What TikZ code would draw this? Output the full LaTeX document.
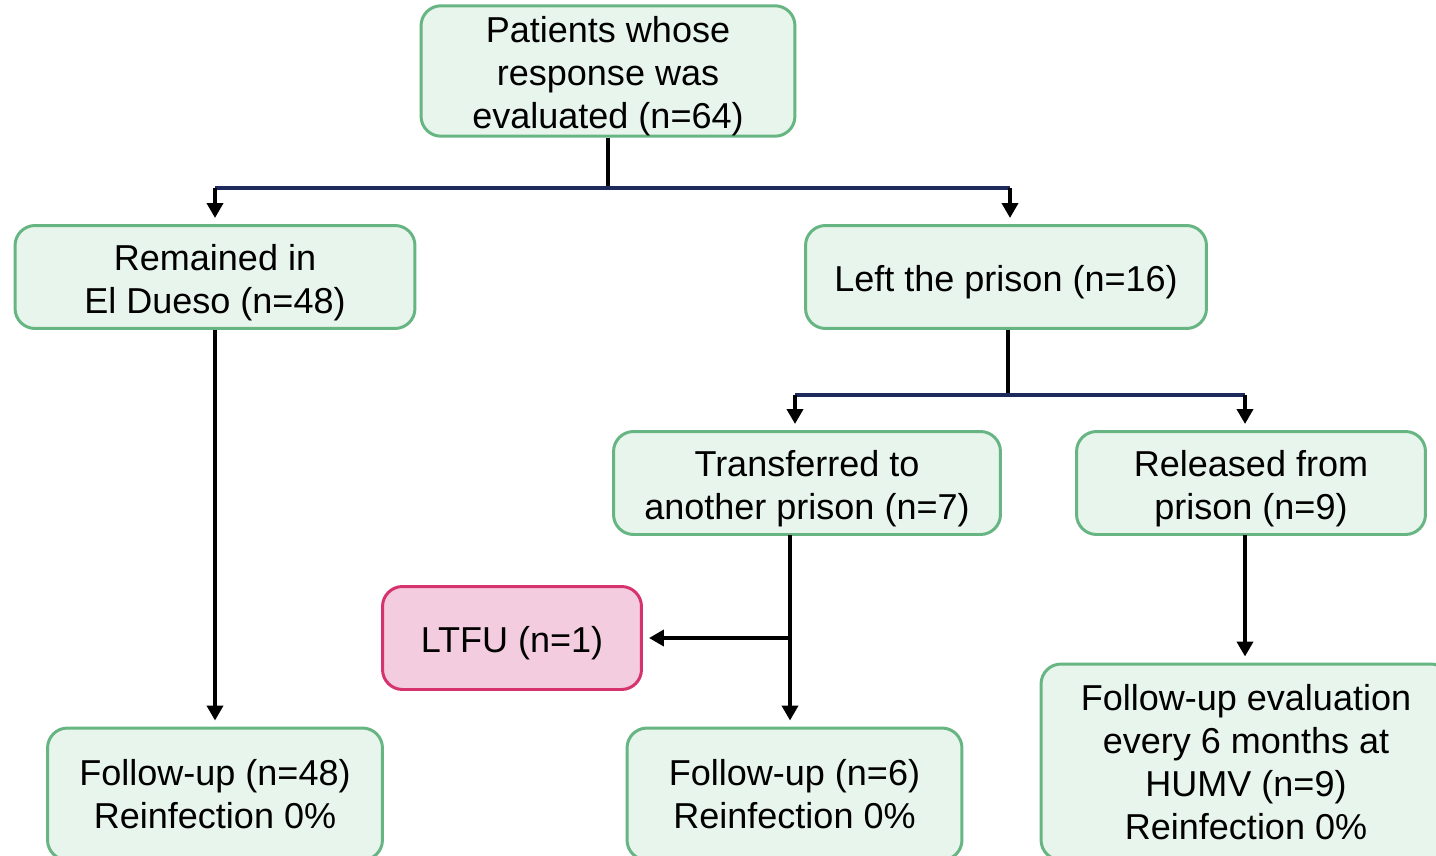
\documentclass[tikz,border=0pt]{standalone}
\usepackage{fontspec}
\setmainfont{Liberation Sans}
\usetikzlibrary{arrows.meta}

\definecolor{boxline}{RGB}{102,181,131}
\definecolor{boxfill}{RGB}{232,245,236}
\definecolor{lostline}{RGB}{214,51,110}
\definecolor{lostfill}{RGB}{244,204,223}
\definecolor{navy}{RGB}{31,42,92}

% taller first line, so the text sits a little lower in its box
\newcommand{\lift}{\rule{0pt}{21pt}}

\tikzset{
	stagebox/.style = {draw=boxline, fill=boxfill, line width=1.7pt, rounded corners=0.4cm,
		align=center, inner sep=0pt, font=\fontsize{20.5}{24.5}\selectfont},
	lostbox/.style = {stagebox, draw=lostline, fill=lostfill},
	stem/.style = {line width=2.3pt, black},
	bar/.style = {line width=2.3pt, navy},
	arr/.style = {stem, -{Triangle[width=0.32cm, length=0.3cm]}, shorten >=0.12cm}
}

\begin{document}
\begin{tikzpicture}[x=0.02cm, y=-0.02cm]
				% We will draw the flow chart here
				\clip (0,0) rectangle (1436,855);
				\useasboundingbox (0,0) rectangle (1436,855);
				
				\node[stagebox, minimum width=7.48cm, minimum height=2.58cm] (evaluated) at (608,71)
				{\lift Patients whose\\response was\\evaluated (n=64)};
				\node[stagebox, minimum width=8.0cm, minimum height=2.06cm] (remained) at (215,277)
				{\lift Remained in\\El Dueso (n=48)};
				\node[stagebox, minimum width=8.02cm, minimum height=2.06cm] (left) at (1006,277)
				{\lift Left the prison (n=16)};
				\node[stagebox, minimum width=7.74cm, minimum height=2.06cm] (transferred) at (807,483)
				{\lift Transferred to\\another prison (n=7)};
				\node[stagebox, minimum width=6.98cm, minimum height=2.06cm] (released) at (1251,483)
				{\lift Released from\\prison (n=9)};
				\node[lostbox, minimum width=5.18cm, minimum height=2.06cm] (ltfu) at (512,638)
				{\lift LTFU (n=1)};
				% the last row runs past the lower edge
				\node[stagebox, minimum width=6.7cm, minimum height=2.64cm] (followA) at (215,794)
				{Follow-up (n=48)\\Reinfection 0\%};
				\node[stagebox, minimum width=6.7cm, minimum height=2.64cm] (followB) at (794.5,794)
				{Follow-up (n=6)\\Reinfection 0\%};
				\node[stagebox, minimum width=8.2cm, minimum height=3.92cm] (followC) at (1246,762)
				{Follow-up evaluation\\every 6 months at\\HUMV (n=9)\\Reinfection 0\%};
				
				% branch points
				\coordinate (splitA) at (608,188);
				\coordinate (splitAL) at (215,188);
				\coordinate (splitAR) at (1010,188);
				\coordinate (splitB) at (1008,395);
				\coordinate (splitBL) at (795,395);
				\coordinate (splitBR) at (1245,395);
				\coordinate (transDown) at (790,535);
				\coordinate (lostJoin) at (790,638);
				\coordinate (relDown) at (1245,535);
				
				\draw[stem] (evaluated.south) -- (splitA);
				\draw[bar] (splitAL) -- (splitAR);
				\draw[arr] (splitAL) -- (splitAL |- remained.north);
				\draw[arr] (splitAR) -- (splitAR |- left.north);
				
				\draw[stem] (left.south -| splitB) -- (splitB);
				\draw[bar] (splitBL) -- (splitBR);
				\draw[arr] (splitBL) -- (splitBL |- transferred.north);
				\draw[arr] (splitBR) -- (splitBR |- released.north);
				
				\draw[arr] (remained.south) -- (followA.north);
				\draw[arr] (transDown) -- (transDown |- followB.north);
				\draw[arr] (lostJoin) -- (ltfu.east);
				\draw[arr] (relDown) -- (relDown |- followC.north);
				
			\end{tikzpicture}
\end{document}
